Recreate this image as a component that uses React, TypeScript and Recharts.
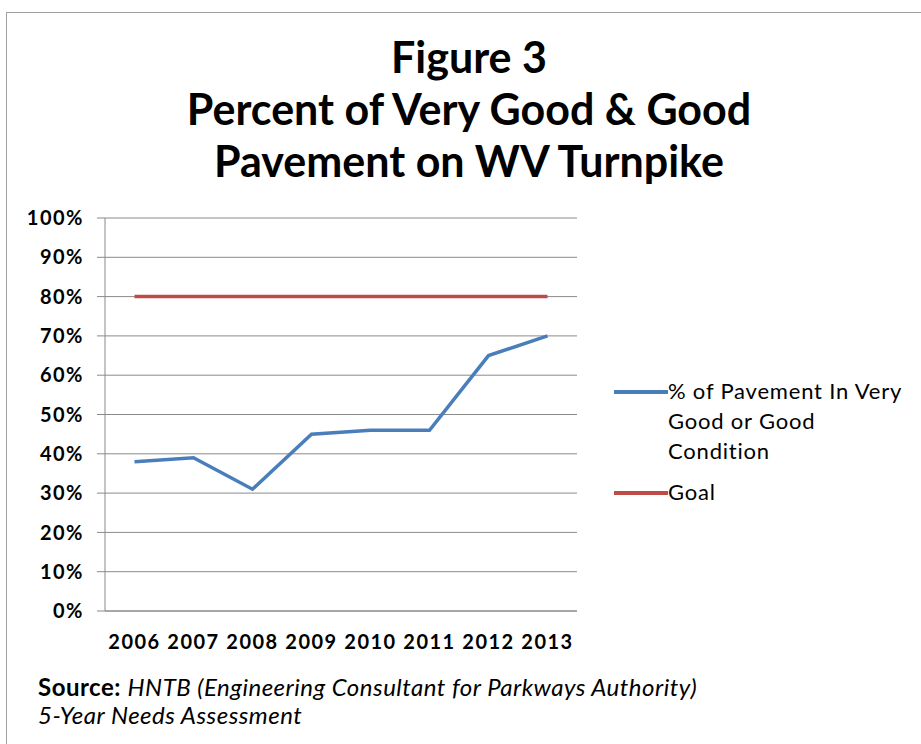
import React from 'react';
import { LineChart, Line, XAxis, YAxis, CartesianGrid } from 'recharts';

const years = ['2006', '2007', '2008', '2009', '2010', '2011', '2012', '2013'];
const pavementGood = [38, 39, 31, 45, 46, 46, 65, 70];
const goal = [80, 80, 80, 80, 80, 80, 80, 80];
const yTicks = [0, 10, 20, 30, 40, 50, 60, 70, 80, 90, 100];
const titleLines = ['Figure 3', 'Percent of Very Good & Good', 'Pavement on WV Turnpike'];
const seriesNames = ['% of Pavement In Very Good or Good Condition', 'Goal'];

const data = years.map((y, i) => ({ year: y, pav: pavementGood[i], goal: goal[i] }));

const FONT = 'Lato, "Open Sans", sans-serif';
const BLUE = '#4A7EBB';
const RED = '#BE4B48';
const tickStyle = { fill: '#000', fontFamily: FONT, fontSize: 20, fontWeight: 700, letterSpacing: 1.5 };

export default function App() {
  return (
    <div style={{ position: 'absolute', left: 0, top: 0, width: 921, height: 744, overflow: 'hidden', background: '#fff' }}>
      <div style={{ position: 'absolute', left: 6, top: 12, width: 930, height: 760, border: '1.5px solid #a0a0a0', boxSizing: 'border-box' }} />
      <div style={{ position: 'absolute', left: 0, top: 31, width: 938, textAlign: 'center', fontFamily: FONT, fontWeight: 700, fontSize: 43, lineHeight: '52px', color: '#000' }}>
        {titleLines.map((t) => (
          <div key={t}>{t}</div>
        ))}
      </div>
      <div style={{ position: 'absolute', left: 0, top: 0 }}>
        <LineChart width={921} height={744} data={data} margin={{ top: 218, right: 344, bottom: 93, left: 5 }}>
          <CartesianGrid vertical={false} stroke="#8a8a8a" strokeWidth={1} />
          <XAxis
            dataKey="year"
            padding={{ left: 29.5, right: 29.5 }}
            tickLine={false}
            axisLine={{ stroke: '#8a8a8a' }}
            tick={tickStyle}
            tickMargin={18}
            height={40}
            interval={0}
          />
          <YAxis
            width={100}
            domain={[0, 100]}
            ticks={yTicks}
            tickFormatter={(v: number) => `${v}%`}
            axisLine={{ stroke: '#8a8a8a' }}
            tickLine={{ stroke: '#8a8a8a' }}
            tickSize={8}
            tickMargin={13}
            tick={tickStyle}
          />
          <Line dataKey="pav" name={seriesNames[0]} stroke={BLUE} strokeWidth={3.5} dot={false} isAnimationActive={false} />
          <Line dataKey="goal" name={seriesNames[1]} stroke={RED} strokeWidth={3.5} dot={false} isAnimationActive={false} />
        </LineChart>
      </div>
      <div style={{ position: 'absolute', left: 614, top: 376, width: 310, fontFamily: FONT, fontSize: 22, letterSpacing: 0.8, color: '#000', lineHeight: '30px' }}>
        <div style={{ display: 'flex', alignItems: 'flex-start' }}>
          <div style={{ width: 54, height: 3.5, background: BLUE, marginTop: 14, flexShrink: 0 }} />
          <div style={{ width: 250 }}>
            % of Pavement In Very<br />Good or Good<br />Condition
          </div>
        </div>
        <div style={{ display: 'flex', alignItems: 'flex-start', marginTop: 11 }}>
          <div style={{ width: 54, height: 3.5, background: RED, marginTop: 14, flexShrink: 0 }} />
          <div>{seriesNames[1]}</div>
        </div>
      </div>
      <div style={{ position: 'absolute', left: 38, top: 673, fontFamily: FONT, fontSize: 24, letterSpacing: 0.5, lineHeight: '28px', color: '#000' }}>
        <div><b>Source:</b> <i>HNTB (Engineering Consultant for Parkways Authority)</i></div>
        <div><i>5-Year Needs Assessment</i></div>
      </div>
    </div>
  );
}
